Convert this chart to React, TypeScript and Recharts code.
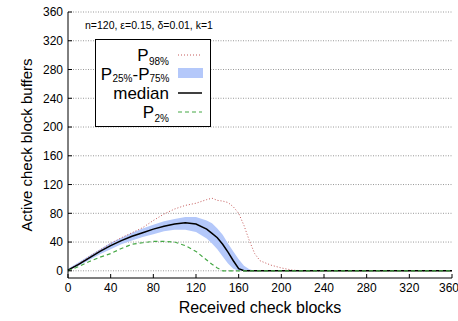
import {
  ComposedChart,
  Line,
  Area,
  XAxis,
  YAxis,
  CartesianGrid,
} from "recharts";

const xs = [0, 10, 20, 30, 40, 50, 60, 70, 80, 90, 100, 110, 120, 130, 135, 140, 145, 150, 155, 160, 165, 170, 175, 180, 190, 200, 210, 220, 360];
const p98 = [1, 10, 20, 29, 38, 46, 53, 60, 70, 79, 86, 91, 94, 99, 101, 98, 97, 95, 89, 80, 63, 42, 24, 14, 8, 4, 1, 0, 0];
const median = [1, 9, 18, 27, 35, 42, 48, 53, 58, 62, 65, 67, 65, 58, 52, 46, 37, 26, 14, 3, 0, 0, 0, 0, 0, 0, 0, 0, 0];
const p25 = [0, 7, 15, 23, 30, 37, 42, 47, 51, 55, 57, 57, 54, 45, 38, 30, 20, 10, 3, 0, 0, 0, 0, 0, 0, 0, 0, 0, 0];
const p75 = [3, 12, 21, 30, 39, 46, 53, 59, 64, 69, 72, 75, 75, 70, 66, 59, 50, 38, 27, 16, 7, 2, 0, 0, 0, 0, 0, 0, 0];
const p2 = [0, 6, 13, 19, 24, 31, 37, 39, 41, 41, 40, 35, 27, 15, 9, 4, 0, 0, 0, 0, 0, 0, 0, 0, 0, 0, 0, 0, 0];

const xTicks = [0, 40, 80, 120, 160, 200, 240, 280, 320, 360];
const yTicks = [0, 40, 80, 120, 160, 200, 240, 280, 320, 360];

const data = xs.map((x, i) => ({
  x,
  p98: p98[i],
  median: median[i],
  band: [p25[i], p75[i]],
  p2: p2[i],
}));

const font = "'Liberation Sans', Arial, sans-serif";
const bandColor = "#b4c8fa";
const p98Color = "#c55a5a";
const p2Color = "#45a845";

// legend drawn by hand: gnuplot-style box, labels right-aligned, samples on the right
function LegendBox() {
  return (
    <svg
      width={118}
      height={90}
      style={{ position: "absolute", left: 94, top: 38, fontFamily: font }}
    >
      <rect x={1.5} y={1.5} width={115} height={87} fill="#fff" stroke="#000" strokeWidth={1} />

      <text x={54.5} y={23} textAnchor="end" fontSize={17}>P</text>
      <text x={55} y={26.5} fontSize={10}>98%</text>
      <line x1={84} y1={17} x2={108} y2={17} stroke={p98Color} strokeDasharray="1 2" />

      <text x={18} y={42} textAnchor="end" fontSize={17}>P</text>
      <text x={18.5} y={44} fontSize={10}>25%</text>
      <text x={38.5} y={42} fontSize={17}>-P</text>
      <text x={55.5} y={44} fontSize={10}>75%</text>
      <rect x={84} y={30} width={25} height={10} fill={bandColor} />

      <text x={75} y={61} textAnchor="end" fontSize={17}>median</text>
      <line x1={84} y1={55} x2={108} y2={55} stroke="#000" strokeWidth={1.5} />

      <text x={60} y={80} textAnchor="end" fontSize={17}>P</text>
      <text x={60.5} y={84} fontSize={10}>2%</text>
      <line x1={84} y1={74} x2={108} y2={74} stroke={p2Color} strokeDasharray="4 3" />
    </svg>
  );
}

export default function App() {
  return (
    <div style={{ position: "absolute", left: 0, top: 0, width: 458, height: 321, fontFamily: font, background: "#fff" }}>
      <ComposedChart
        width={458}
        height={321}
        data={data}
        margin={{ top: 12, right: 6, left: 0, bottom: 0 }}
      >
        <CartesianGrid
          vertical={false}
          stroke="#999"
          strokeDasharray="1 1.5"
          horizontalValues={yTicks}
        />
        <XAxis
          dataKey="x"
          type="number"
          domain={[0, 360]}
          ticks={xTicks}
          height={43}
          tickSize={-4}
          tickMargin={9}
          stroke="#000"
          tick={{ fill: "#000", fontSize: 12 }}
          label={{ value: "Received check blocks", position: "insideBottom", offset: 8, fontSize: 16, fill: "#000" }}
        />
        <XAxis
          xAxisId="top"
          orientation="top"
          type="number"
          domain={[0, 360]}
          ticks={xTicks}
          height={0}
          tickSize={-4}
          tick={false}
          stroke="#000"
        />
        <YAxis
          type="number"
          domain={[-10, 360]}
          ticks={yTicks}
          width={68}
          tickSize={-4}
          tickMargin={9}
          stroke="#000"
          tick={{ fill: "#000", fontSize: 12 }}
          label={{
            value: "Active check block buffers",
            position: "insideLeft",
            angle: -90,
            offset: 27,
            fontSize: 15,
            fill: "#000",
            style: { textAnchor: "middle" },
          }}
        />
        <YAxis
          yAxisId="right"
          orientation="right"
          type="number"
          domain={[-10, 360]}
          ticks={yTicks}
          width={0}
          tickSize={-4}
          tick={false}
          stroke="#000"
        />
        <Area
          dataKey="band"
          type="linear"
          stroke="none"
          fill={bandColor}
          fillOpacity={1}
          isAnimationActive={false}
        />
        <Line
          dataKey="p98"
          type="linear"
          stroke={p98Color}
          strokeWidth={1}
          strokeDasharray="1 2"
          dot={false}
          isAnimationActive={false}
        />
        <Line
          dataKey="median"
          type="linear"
          stroke="#000"
          strokeWidth={1.5}
          dot={false}
          isAnimationActive={false}
        />
        <Line
          dataKey="p2"
          type="linear"
          stroke={p2Color}
          strokeWidth={1.2}
          strokeDasharray="4 3"
          dot={false}
          isAnimationActive={false}
        />
      </ComposedChart>
      <div style={{ position: "absolute", left: 85, top: 19, fontSize: 10.5, whiteSpace: "nowrap", lineHeight: "12px" }}>
        n=120, ε=0.15, δ=0.01, k=1
      </div>
      <LegendBox />
    </div>
  );
}
